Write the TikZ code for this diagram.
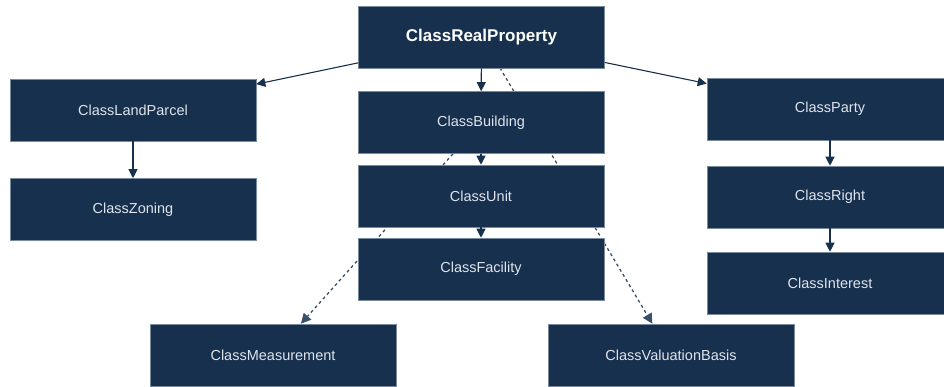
\documentclass[tikz,border=0pt]{standalone}
\usepackage{fontspec}
\setmainfont{Liberation Sans}
\usetikzlibrary{arrows.meta,backgrounds}
\definecolor{navy}{RGB}{23,48,78}
\definecolor{boxedge}{RGB}{120,138,158}
\definecolor{label}{RGB}{222,228,235}
\tikzset{
  classbox/.style={rectangle, draw=boxedge, line width=0.6pt, fill=navy,
    minimum width=246pt, minimum height=62pt, inner sep=0pt,
    text=label, font=\fontsize{14.5}{17}\selectfont},
  rootbox/.style={classbox, font=\fontsize{17}{20}\selectfont\bfseries, text=white!95!label},
  link/.style={draw=navy, line width=1.1pt, -{Triangle[length=9pt,width=9pt]}},
  weaklink/.style={draw=navy!85!white, line width=1.3pt, dash pattern=on 3pt off 3pt,
    -{Triangle[length=10pt,width=10pt]}}
}
\begin{document}
\begin{tikzpicture}[x=1pt,y=-1pt]
  \useasboundingbox (0,0) rectangle (944,386);
  \clip (0,0) rectangle (944,386);

  % class boxes
  \node[rootbox]  (rp) at (481.5,37)  {ClassRealProperty};
  \node[classbox] (lp) at (133,110)   {ClassLandParcel};
  \node[classbox] (zn) at (133,209.5) {ClassZoning};
  \node[classbox] (bd) at (481,122.5) {ClassBuilding};
  \node[classbox] (un) at (481,196)   {ClassUnit};
  \node[classbox] (fa) at (481,269)   {ClassFacility};
  \node[classbox] (pa) at (830,109)   {ClassParty};
  \node[classbox] (ri) at (830,197)   {ClassRight};
  \node[classbox] (it) at (830,283)   {ClassInterest};
  \node[classbox] (me) at (273,355)   {ClassMeasurement};
  \node[classbox] (vb) at (671,355)   {ClassValuationBasis};

  % composition links
  \draw[link] (rp) -- (lp);
  \draw[link] (rp) -- (bd);
  \draw[link] (rp) -- (pa);
  \draw[link] (lp) -- (zn);
  \draw[link] (bd) -- (un);
  \draw[link] (un) -- (fa);
  \draw[link] (pa) -- (ri);
  \draw[link] (ri) -- (it);

  % dependency links, running behind the boxes
  \begin{pgfonlayer}{background}
    \draw[weaklink] (rp.center) -- (vb);
    \draw[weaklink] (bd.center) -- (me);
  \end{pgfonlayer}
\end{tikzpicture}
\end{document}
